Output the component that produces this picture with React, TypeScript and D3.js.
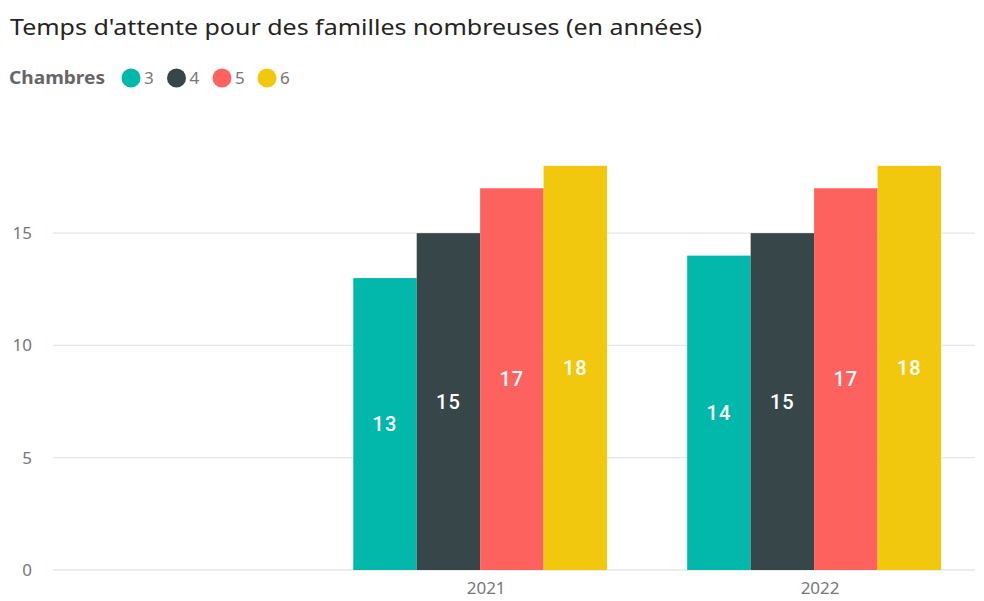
import React from 'react';
import * as d3 from 'd3';

const TITLE = "Temps d'attente pour des familles nombreuses (en années)";
const LEGEND_TITLE = 'Chambres';
const YEARS = ['', '2021', '2022'];
const ROOMS = ['3', '4', '5', '6'];
const COLORS = ['#01B8AA', '#374649', '#FD625E', '#F2C80F'];
const VALUES: Record<string, (number | null)[]> = {
  '3': [null, 13, 14],
  '4': [null, 15, 15],
  '5': [null, 17, 17],
  '6': [null, 18, 18],
};
const Y_TICKS = [0, 5, 10, 15];

const W = 984;
const H = 601;
const FONT = "'Noto Sans', 'Open Sans', sans-serif";

export default function App() {
  const grid = { left: 53, right: 975 };
  const y = d3.scaleLinear().domain([0, 18]).range([570, 165.8]);
  const x0 = d3.scaleBand().domain(YEARS).range([19.3, 941]).paddingInner(0.24).paddingOuter(0);
  const x1 = d3.scaleBand().domain(ROOMS).range([0, x0.bandwidth()]);
  const color = d3.scaleOrdinal<string, string>().domain(ROOMS).range(COLORS);

  const legendX = [131, 176.5, 222, 267];

  return (
    <div style={{ position: 'fixed', left: 0, top: 0 }}>
      <svg width={W} height={H} style={{ display: 'block', background: '#fff' }}>
        <text x={10} y={35} fontFamily={FONT} fontSize={21} fill="#252423"
          textLength={692} lengthAdjust="spacingAndGlyphs">{TITLE}</text>

        {/* legend */}
        <text x={9} y={84} fontFamily={FONT} fontSize={17} fontWeight="bold" fill="#666"
          textLength={96} lengthAdjust="spacingAndGlyphs">
          {LEGEND_TITLE}
        </text>
        {ROOMS.map((r, i) => (
          <g key={r}>
            <circle cx={legendX[i]} cy={78} r={9.5} fill={color(r)} />
            <text x={legendX[i] + 13} y={84} fontFamily={FONT} fontSize={17} fill="#777">{r}</text>
          </g>
        ))}

        {/* grid + y axis */}
        {Y_TICKS.map(t => (
          <g key={t}>
            <line x1={grid.left} x2={grid.right} y1={y(t)} y2={y(t)} stroke="#e6e6e6" strokeWidth={1.3} />
            <text x={32} y={y(t)} dy="0.35em" textAnchor="end" fontFamily={FONT}
              fontSize={17} fill="#777">{t}</text>
          </g>
        ))}

        {/* bars */}
        {YEARS.map((yr, yi) => (
          <g key={yr || 'blank'} transform={`translate(${x0(yr)},0)`}>
            {ROOMS.map(r => {
              const v = VALUES[r][yi];
              if (v == null) return null;
              const bx = x1(r)!;
              const bw = x1.bandwidth();
              return (
                <g key={r}>
                  <rect x={bx} y={y(v)} width={bw} height={y(0) - y(v)} fill={color(r)} />
                  <text x={bx + bw / 2} y={(y(v) + y(0)) / 2} dy="0.35em" textAnchor="middle"
                    fontFamily="Roboto, sans-serif" fontWeight={500} fontSize={20} fill="#fff"
                    letterSpacing={1}>{v}</text>
                </g>
              );
            })}
          </g>
        ))}

        {/* x axis labels */}
        {YEARS.filter(d => d).map(yr => (
          <text key={yr} x={x0(yr)! + x0.bandwidth() / 2 + 6} y={588} dy="0.35em" textAnchor="middle"
            fontFamily={FONT} fontSize={17} fill="#777">{yr}</text>
        ))}
      </svg>
    </div>
  );
}
